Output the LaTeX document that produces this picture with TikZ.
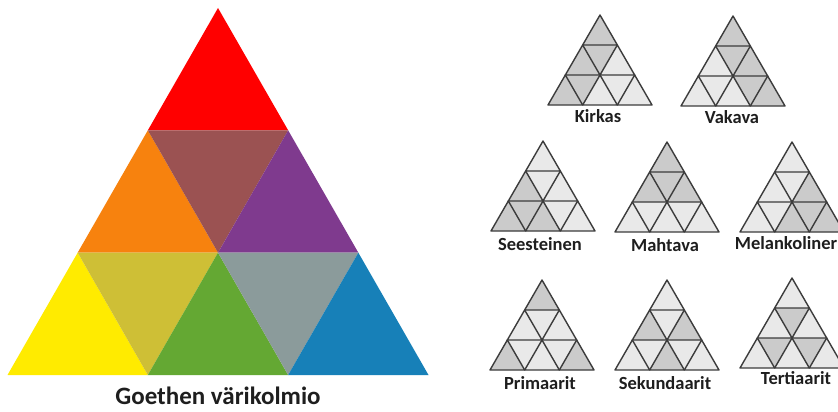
\documentclass[tikz,border=0pt]{standalone}
\usepackage{fontspec}
\setmainfont{Carlito}
\definecolor{cred}{HTML}{FF0000}
\definecolor{corange}{HTML}{F7820E}
\definecolor{cmauve}{HTML}{9B5252}
\definecolor{cpurple}{HTML}{7F3A8E}
\definecolor{cyellow}{HTML}{FFEB00}
\definecolor{colive}{HTML}{CEBF36}
\definecolor{cgreen}{HTML}{64A833}
\definecolor{cgray}{HTML}{8B9B9B}
\definecolor{cblue}{HTML}{1780B8}
\definecolor{dkgray}{HTML}{CBCBCB}
\definecolor{ltgray}{HTML}{E9E9E9}
\definecolor{edge}{HTML}{3C3C3C}
\definecolor{txt}{HTML}{1E1E1E}
\tikzset{
  minilabel/.style={font=\fontsize{18.5}{20}\selectfont\bfseries, text=txt, anchor=base, inner sep=0pt},
  biglabel/.style={font=\fontsize{25}{28}\selectfont\bfseries, text=txt, anchor=base, inner sep=0pt},
  miniedge/.style={draw=edge, line width=1.4pt, line join=round},
}
% grid of a triangle: #1 name, #2 apex x, #3 apex y, #4 width, #5 height
\newcommand\trigrid[5]{%
  \foreach \i in {0,...,3}{\foreach \j in {0,...,\i}{%
    \coordinate (#1-\i\j) at ({#2+(\j-\i/2)*#4/3},{#3+\i*#5/3});}}}
% cell path: #1 name, #2 cell index
\newcommand\cellpath[2]{%
  \ifcase#2\or
   (#1-00)--(#1-10)--(#1-11)--cycle\or
   (#1-10)--(#1-20)--(#1-21)--cycle\or
   (#1-10)--(#1-11)--(#1-21)--cycle\or
   (#1-11)--(#1-21)--(#1-22)--cycle\or
   (#1-20)--(#1-30)--(#1-31)--cycle\or
   (#1-20)--(#1-21)--(#1-31)--cycle\or
   (#1-21)--(#1-31)--(#1-32)--cycle\or
   (#1-21)--(#1-22)--(#1-32)--cycle\or
   (#1-22)--(#1-32)--(#1-33)--cycle\fi}
% mini triangle: #1 name, #2 x, #3 y, #4 shaded list
\newcommand\minitri[4]{%
  \trigrid{#1}{#2}{#3}{104}{90}%
  \fill[ltgray] (#1-00)--(#1-30)--(#1-33)--cycle;
  \foreach \c in {#4}{\fill[dkgray] \cellpath{#1}{\c};}
  \foreach \c in {1,2,4,5,7,9}{\draw[miniedge] \cellpath{#1}{\c};}}
\begin{document}
\begin{tikzpicture}[x=1pt,y=-1pt]
\useasboundingbox (0,0) rectangle (838,412);
\fill[white] (0,0) rectangle (838,412);
% big Goethe triangle
\trigrid{G}{218}{8}{421}{367}
\fill[cred] \cellpath{G}{1};
\fill[corange] \cellpath{G}{2};
\fill[cmauve] \cellpath{G}{3};
\fill[cpurple] \cellpath{G}{4};
\fill[cyellow] \cellpath{G}{5};
\fill[colive] \cellpath{G}{6};
\fill[cgreen] \cellpath{G}{7};
\fill[cgray] \cellpath{G}{8};
\fill[cblue] \cellpath{G}{9};
\node[biglabel] (goethe) at (218,404) {Goethen värikolmio};
% mini triangles
\minitri{kir}{600}{15}{1,2,3,5,6}
\node[minilabel] (lkir) at (598,122) {Kirkas};
\minitri{vak}{733}{16}{1,3,4,8,9}
\node[minilabel] (lvak) at (732,123) {Vakava};
\minitri{see}{543}{141}{2,5,6,7}
\node[minilabel] (lsee) at (540,250) {Seesteinen};
\minitri{mah}{667}{142}{1,2,3,4}
\node[minilabel] (lmah) at (665,251) {Mahtava};
\minitri{mel}{792}{142}{4,7,8,9}
\node[minilabel] (lmel) at (786,249) {Melankoliner};
\minitri{pri}{542}{280}{1,5,9}
\node[minilabel] (lpri) at (540,389) {Primaarit};
\minitri{sek}{667}{280}{2,4,7}
\node[minilabel] (lsek) at (665,389) {Sekundaarit};
\minitri{ter}{792}{278}{3,6,8}
\node[minilabel] (lter) at (796,384) {Tertiaarit};
\end{tikzpicture}
\end{document}
